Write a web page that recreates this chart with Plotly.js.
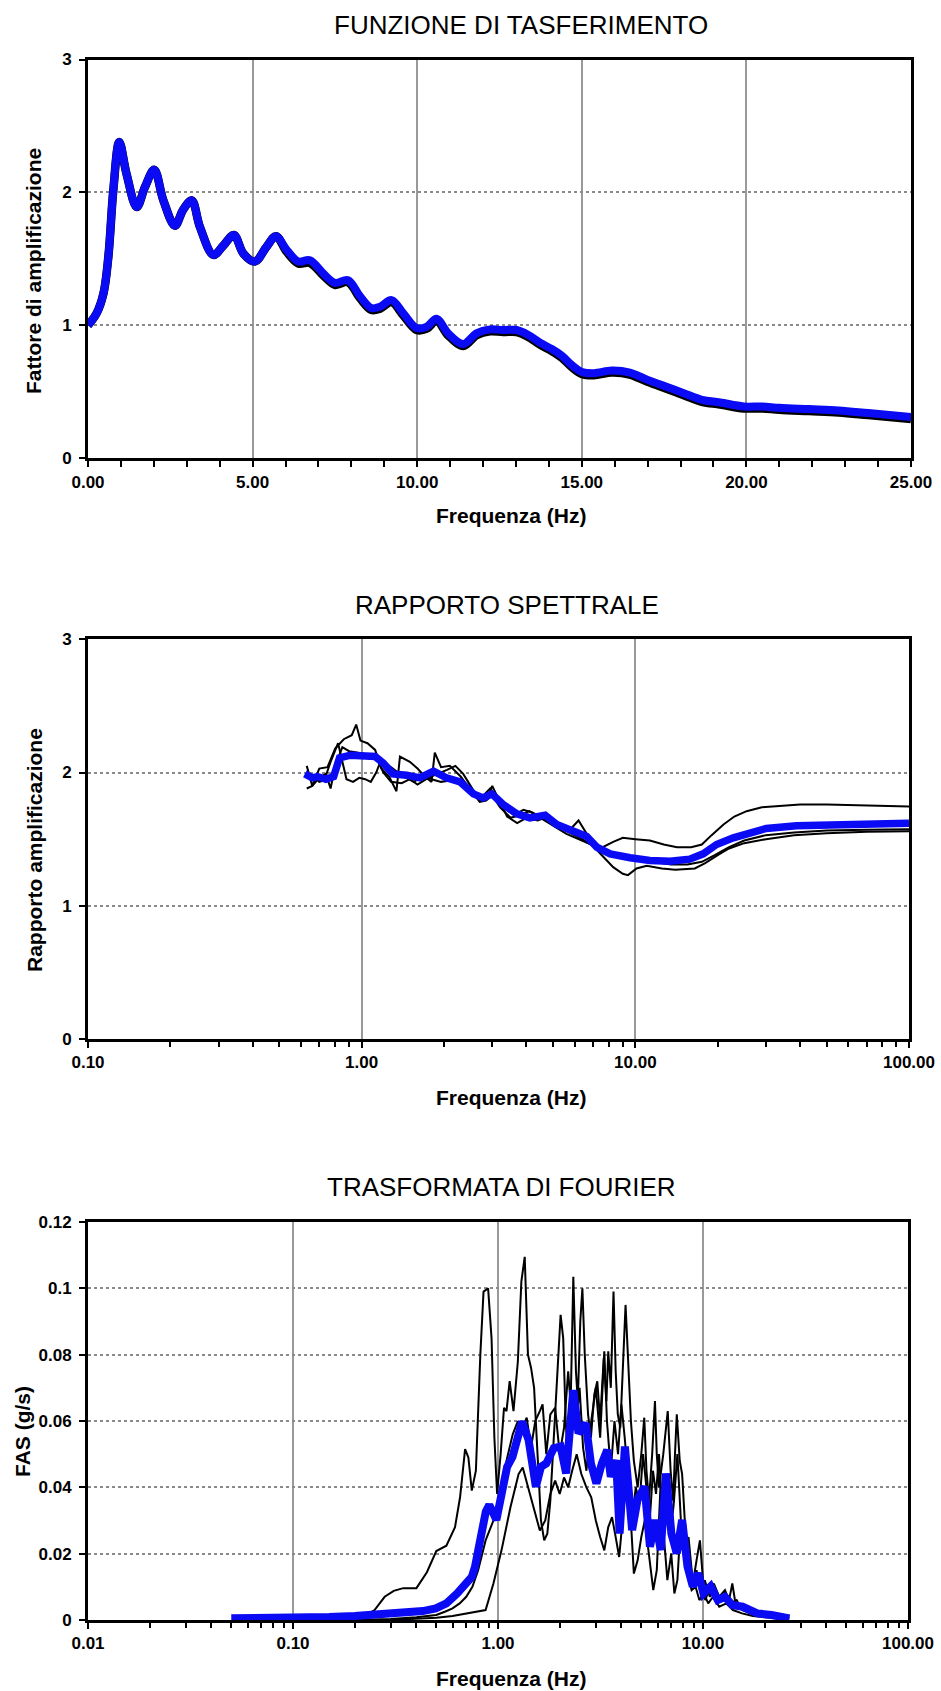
<!DOCTYPE html>
<html>
<head>
<meta charset="utf-8">
<script src="https://cdn.plot.ly/plotly-3.0.1.min.js"></script>
<style>
html,body{margin:0;padding:0;background:#fff;}
#chart{width:941px;height:1691px;}
</style>
</head>
<body>
<div id="chart"></div>
<script>
// ---------- Chart 1: FUNZIONE DI TASFERIMENTO ----------
const freq1 = [0, 0.26, 0.47, 0.62, 0.77, 0.95, 1.17, 1.48, 1.73, 2.01, 2.29, 2.64, 2.89, 3.15, 3.40, 3.81, 4.11, 4.43, 4.72, 5.07, 5.42, 5.71, 6.03, 6.39, 6.74, 7.15, 7.50, 7.90, 8.26, 8.61, 8.87, 9.22, 9.58, 9.98, 10.29, 10.59, 10.94, 11.40, 11.80, 12.21, 12.61, 13.02, 13.36, 13.73, 14.1, 14.4, 14.7, 15.0, 15.37, 15.91, 16.46, 17.0, 17.55, 18.1, 18.65, 19.2, 19.92, 20.47, 21.0, 21.9, 22.8, 23.7, 25.0];
const tfMean = [1.0, 1.09, 1.24, 1.52, 2.02, 2.38, 2.14, 1.89, 2.04, 2.17, 1.94, 1.75, 1.87, 1.94, 1.74, 1.53, 1.60, 1.68, 1.54, 1.48, 1.59, 1.67, 1.57, 1.48, 1.49, 1.39, 1.32, 1.34, 1.22, 1.13, 1.14, 1.19, 1.09, 0.98, 0.99, 1.05, 0.94, 0.86, 0.94, 0.97, 0.965, 0.965, 0.93, 0.87, 0.82, 0.77, 0.70, 0.65, 0.64, 0.66, 0.645, 0.59, 0.54, 0.49, 0.44, 0.42, 0.39, 0.39, 0.38, 0.37, 0.36, 0.34, 0.31];
const tfRecord = [1.0, 1.09, 1.24, 1.52, 2.02, 2.38, 2.14, 1.89, 2.04, 2.17, 1.94, 1.75, 1.87, 1.94, 1.74, 1.53, 1.60, 1.68, 1.54, 1.48, 1.59, 1.67, 1.555, 1.465, 1.47, 1.375, 1.305, 1.325, 1.205, 1.115, 1.125, 1.175, 1.075, 0.965, 0.975, 1.035, 0.925, 0.845, 0.925, 0.955, 0.95, 0.95, 0.915, 0.855, 0.805, 0.755, 0.685, 0.635, 0.625, 0.645, 0.63, 0.575, 0.525, 0.475, 0.425, 0.405, 0.375, 0.375, 0.365, 0.355, 0.345, 0.325, 0.295];

// ---------- Chart 2: RAPPORTO SPETTRALE ----------
const freq2Mean = [0.62, 0.66, 0.69, 0.74, 0.79, 0.83, 0.91, 1.01, 1.12, 1.20, 1.30, 1.46, 1.63, 1.83, 2.04, 2.29, 2.56, 2.78, 2.99, 3.29, 3.69, 4.12, 4.68, 5.16, 5.94, 6.64, 7.23, 8.09, 9.57, 11.3, 13.4, 15.8, 17.7, 19.8, 22.8, 26.2, 30.1, 38.8, 51.4, 68, 100];
const ratioMean = [1.99, 1.96, 1.97, 1.95, 1.97, 2.11, 2.13, 2.12, 2.12, 2.07, 1.99, 1.98, 1.96, 2.01, 1.96, 1.93, 1.84, 1.81, 1.84, 1.76, 1.69, 1.66, 1.68, 1.61, 1.56, 1.52, 1.44, 1.39, 1.36, 1.34, 1.335, 1.35, 1.39, 1.46, 1.51, 1.54, 1.58, 1.60, 1.605, 1.61, 1.62];
const freq2A = [0.63, 0.66, 0.70, 0.75, 0.80, 0.86, 0.92, 0.955, 0.99, 1.05, 1.12, 1.18, 1.26, 1.34, 1.38, 1.5, 1.6, 1.7, 1.8, 1.85, 1.95, 2.1, 2.3, 2.5, 2.7, 2.95, 3.1, 3.3, 3.6, 3.9, 4.2, 4.6, 5.0, 5.5, 6.0, 6.5, 7.0, 7.6, 8.3, 9.0, 10, 11.3, 12.7, 14.2, 16, 17.5, 19, 21, 23, 25.5, 29, 33, 40, 50, 65, 80, 100];
const ratioA = [2.05, 1.90, 2.03, 2.04, 2.18, 2.25, 2.28, 2.36, 2.24, 2.22, 2.17, 2.03, 1.97, 1.86, 2.12, 2.08, 2.03, 1.97, 1.93, 2.15, 2.04, 2.05, 1.97, 1.87, 1.80, 1.88, 1.80, 1.74, 1.68, 1.72, 1.70, 1.66, 1.62, 1.57, 1.53, 1.49, 1.45, 1.44, 1.48, 1.51, 1.50, 1.49, 1.46, 1.44, 1.44, 1.46, 1.53, 1.61, 1.67, 1.71, 1.74, 1.75, 1.76, 1.76, 1.755, 1.75, 1.745];
const freq2B = [0.63, 0.66, 0.70, 0.74, 0.77, 0.80, 0.85, 0.90, 0.96, 1.02, 1.08, 1.14, 1.2, 1.28, 1.4, 1.5, 1.6, 1.75, 1.9, 2.05, 2.2, 2.35, 2.5, 2.7, 2.9, 3.0, 3.2, 3.4, 3.7, 4.0, 4.4, 4.8, 5.2, 5.7, 6.2, 6.6, 7.0, 7.6, 8.3, 9.0, 9.4, 10.1, 11, 12.5, 14, 16.5, 18, 20, 22, 25, 30, 38, 50, 70, 100];
const ratioB = [1.88, 1.90, 1.96, 1.99, 1.88, 2.05, 2.19, 2.16, 2.15, 2.14, 2.13, 2.10, 2.00, 1.93, 1.92, 1.95, 1.91, 1.96, 1.99, 2.02, 2.05, 1.99, 1.90, 1.79, 1.82, 1.90, 1.78, 1.67, 1.62, 1.66, 1.64, 1.67, 1.61, 1.56, 1.64, 1.55, 1.45, 1.37, 1.29, 1.24, 1.23, 1.28, 1.30, 1.28, 1.27, 1.28, 1.32, 1.38, 1.43, 1.47, 1.50, 1.53, 1.545, 1.555, 1.56];
const freq2C = [0.63, 0.66, 0.70, 0.73, 0.77, 0.82, 0.88, 0.93, 0.98, 1.03, 1.08, 1.13, 1.17, 1.22, 1.3, 1.4, 1.55, 1.7, 1.8, 1.95, 2.1, 2.3, 2.5, 2.7, 2.85, 3.0, 3.2, 3.5, 3.8, 4.1, 4.5, 5.0, 5.6, 6.2, 7.0, 7.8, 8.8, 10, 11.5, 13.5, 15.5, 17.5, 19.5, 22, 25, 30, 38, 50, 70, 100];
const ratioC = [2.00, 1.98, 1.93, 1.94, 2.08, 2.22, 1.95, 1.93, 1.96, 1.95, 1.93, 2.00, 2.08, 2.07, 2.03, 1.98, 1.93, 1.98, 1.95, 1.93, 1.94, 1.93, 1.87, 1.78, 1.79, 1.83, 1.74, 1.66, 1.68, 1.71, 1.66, 1.60, 1.54, 1.50, 1.45, 1.41, 1.38, 1.35, 1.33, 1.31, 1.31, 1.33, 1.38, 1.44, 1.49, 1.53, 1.55, 1.565, 1.57, 1.575];

// ---------- Chart 3: TRASFORMATA DI FOURIER ----------
const freq3Mean = [0.05, 0.08, 0.108, 0.15, 0.2, 0.241, 0.3, 0.36, 0.43, 0.497, 0.56, 0.632, 0.68, 0.713, 0.745, 0.772, 0.80, 0.82, 0.872, 0.907, 0.94, 0.982, 1.043, 1.108, 1.177, 1.25, 1.31, 1.41, 1.53, 1.62, 1.72, 1.87, 2.02, 2.15, 2.24, 2.33, 2.47, 2.68, 2.84, 3.02, 3.21, 3.41, 3.55, 3.77, 3.92, 4.16, 4.51, 4.79, 5.19, 5.51, 5.85, 6.22, 6.60, 7.01, 7.45, 7.91, 8.40, 8.92, 9.48, 10.06, 10.9, 11.8, 12.8, 13.9, 15.6, 18.4, 21.6, 26.4];
const fasMean = [0.0005, 0.0005, 0.0007, 0.0009, 0.0012, 0.0015, 0.0018, 0.002, 0.0027, 0.0035, 0.005, 0.008, 0.0105, 0.012, 0.013, 0.016, 0.021, 0.024, 0.0327, 0.0347, 0.032, 0.0302, 0.0382, 0.0462, 0.0492, 0.0543, 0.0598, 0.0543, 0.0402, 0.0462, 0.0472, 0.0518, 0.0523, 0.0442, 0.0563, 0.0693, 0.0563, 0.0593, 0.0472, 0.0412, 0.0472, 0.0513, 0.0432, 0.0482, 0.0261, 0.0523, 0.0271, 0.0362, 0.0402, 0.0221, 0.0302, 0.0211, 0.0442, 0.0261, 0.0201, 0.0302, 0.0161, 0.0101, 0.0141, 0.008, 0.0101, 0.006, 0.007, 0.0045, 0.004, 0.002, 0.0015, 0.0005];
const freq3K1 = [0.2, 0.22, 0.25, 0.28, 0.31, 0.345, 0.40, 0.45, 0.50, 0.56, 0.617, 0.653, 0.691, 0.717, 0.745, 0.78, 0.82, 0.85, 0.895, 0.93, 0.96, 0.99, 1.03, 1.07, 1.10, 1.14, 1.19, 1.25, 1.30, 1.35, 1.40, 1.45, 1.50, 1.56, 1.62, 1.68, 1.74, 1.80, 1.87, 1.95, 2.02, 2.08, 2.14, 2.20, 2.27, 2.33, 2.40, 2.45, 2.52, 2.58, 2.65, 2.75, 2.84, 2.95, 3.05, 3.15, 3.28, 3.38, 3.45, 3.55, 3.66, 3.75, 3.84, 3.95, 4.05, 4.19, 4.30, 4.45, 4.60, 4.80, 5.0, 5.17, 5.30, 5.45, 5.65, 5.83, 5.95, 6.1, 6.4, 6.73, 6.95, 7.15, 7.3, 7.45, 7.7, 7.91, 8.15, 8.4, 8.65, 8.92, 9.3, 9.66, 10.0, 10.25, 10.7, 11.3, 12.0, 12.8, 13.4, 13.9, 14.4, 15.3, 16.3, 18, 19.9, 23, 26.4];
const fasK1 = [0.0003, 0.001, 0.003, 0.007, 0.0088, 0.0096, 0.0096, 0.0144, 0.0208, 0.0224, 0.028, 0.037, 0.0515, 0.049, 0.039, 0.045, 0.08, 0.099, 0.100, 0.085, 0.055, 0.038, 0.05, 0.064, 0.063, 0.072, 0.063, 0.078, 0.102, 0.1095, 0.08, 0.076, 0.07, 0.05, 0.03, 0.024, 0.026, 0.036, 0.055, 0.074, 0.092, 0.085, 0.06, 0.046, 0.07, 0.1035, 0.075, 0.066, 0.09, 0.1, 0.08, 0.062, 0.055, 0.068, 0.072, 0.06, 0.079, 0.066, 0.081, 0.07, 0.099, 0.075, 0.062, 0.058, 0.075, 0.095, 0.08, 0.06, 0.048, 0.04, 0.05, 0.061, 0.045, 0.036, 0.05, 0.066, 0.05, 0.04, 0.05, 0.063, 0.045, 0.036, 0.05, 0.062, 0.048, 0.044, 0.03, 0.021, 0.015, 0.011, 0.018, 0.024, 0.012, 0.006, 0.009, 0.011, 0.007, 0.009, 0.006, 0.011, 0.005, 0.004, 0.003, 0.002, 0.0015, 0.001, 0.0005];
const freq3K2 = [0.2, 0.3, 0.4, 0.5, 0.55, 0.6, 0.65, 0.7, 0.75, 0.8, 0.87, 0.95, 1.02, 1.1, 1.18, 1.25, 1.3, 1.38, 1.45, 1.52, 1.6, 1.65, 1.72, 1.8, 1.9, 2.0, 2.1, 2.2, 2.28, 2.4, 2.5, 2.6, 2.7, 2.85, 3.0, 3.15, 3.3, 3.4, 3.55, 3.7, 3.85, 4.0, 4.15, 4.3, 4.5, 4.7, 4.9, 5.1, 5.3, 5.5, 5.7, 5.9, 6.1, 6.3, 6.6, 6.9, 7.2, 7.5, 7.8, 8.1, 8.5, 8.9, 9.3, 9.7, 10.2, 10.8, 11.4, 12.1, 12.9, 13.7, 14.6, 15.5, 17, 19, 22, 25];
const fasK2 = [0, 0.0003, 0.0008, 0.0015, 0.0025, 0.0035, 0.005, 0.007, 0.01, 0.015, 0.024, 0.03, 0.036, 0.048, 0.056, 0.06, 0.057, 0.061, 0.052, 0.06, 0.063, 0.065, 0.05, 0.062, 0.064, 0.05, 0.058, 0.075, 0.062, 0.058, 0.07, 0.052, 0.045, 0.06, 0.07, 0.055, 0.081, 0.06, 0.045, 0.06, 0.05, 0.065, 0.055, 0.045, 0.03, 0.04, 0.035, 0.05, 0.04, 0.03, 0.045, 0.038, 0.05, 0.035, 0.04, 0.025, 0.035, 0.05, 0.03, 0.02, 0.025, 0.012, 0.015, 0.009, 0.012, 0.007, 0.01, 0.006, 0.008, 0.005, 0.006, 0.003, 0.002, 0.0012, 0.0008, 0.0004];
const freq3K3 = [0.3, 0.4, 0.5, 0.6, 0.7, 0.8, 0.87, 0.95, 1.04, 1.15, 1.26, 1.32, 1.4, 1.5, 1.6, 1.7, 1.8, 1.9, 2.0, 2.1, 2.2, 2.3, 2.42, 2.55, 2.7, 2.85, 3.0, 3.15, 3.3, 3.45, 3.6, 3.75, 3.9, 4.05, 4.2, 4.4, 4.6, 4.8, 5.0, 5.2, 5.45, 5.72, 5.95, 6.2, 6.45, 6.7, 7.0, 7.25, 7.5, 7.8, 8.1, 8.4, 8.8, 9.2, 9.6, 10.1, 10.6, 11.2, 12, 13, 14, 15.5, 17.5, 20, 24];
const fasK3 = [0, 0.0003, 0.0007, 0.0012, 0.002, 0.0025, 0.003, 0.011, 0.021, 0.034, 0.044, 0.046, 0.04, 0.033, 0.027, 0.03, 0.038, 0.042, 0.038, 0.043, 0.04, 0.045, 0.05, 0.044, 0.04, 0.037, 0.03, 0.025, 0.021, 0.028, 0.031, 0.025, 0.019, 0.03, 0.045, 0.035, 0.014, 0.018, 0.025, 0.03, 0.02, 0.009, 0.015, 0.04, 0.025, 0.012, 0.02, 0.008, 0.012, 0.03, 0.02, 0.014, 0.009, 0.01, 0.006, 0.008, 0.005, 0.007, 0.004, 0.005, 0.003, 0.002, 0.0012, 0.0008, 0.0004];

// ---------- Texts ----------
const titles = ['FUNZIONE DI TASFERIMENTO', 'RAPPORTO SPETTRALE', 'TRASFORMATA DI FOURIER'];
const xTitle = 'Frequenza (Hz)';
const yTitles = ['Fattore di amplificazione', 'Rapporto amplificazione', 'FAS (g/s)'];

// ---------- Layout helpers ----------
const W = 941, H = 1691;
const px = v => v / W;
const py = v => 1 - v / H;
const FONT = '"Liberation Sans", Arial, Helvetica, sans-serif';
const BLUE = '#0a0af5';
const tickFont = {family: FONT, size: 17, color: '#000', weight: 'bold'};

function baseAxis(extra) {
  return Object.assign({
    showline: true, linecolor: '#000', linewidth: 3, mirror: true,
    ticks: 'outside', ticklen: 6, tickwidth: 2, tickcolor: '#000',
    showgrid: true, gridcolor: '#8a8a8a', gridwidth: 2, griddash: 'dot',
    zeroline: false, tickfont: tickFont, fixedrange: true
  }, extra);
}
const xGrid = {gridcolor: '#999999', gridwidth: 2, griddash: 'solid'};
const yGrid = {gridcolor: '#8a8a8a', gridwidth: 2, griddash: 'dot', ticklabelstandoff: 4};
const minorLog = {ticks: 'outside', ticklen: 5, tickwidth: 2, tickcolor: '#000', dtick: 'D1', showgrid: false};

const blackLine = {color: '#000', width: 2};
const traces = [
  {x: freq1, y: tfRecord, xaxis: 'x', yaxis: 'y', mode: 'lines', line: {color: '#000', width: 8.5, shape: 'spline', smoothing: 1}},
  {x: freq1, y: tfMean, xaxis: 'x', yaxis: 'y', mode: 'lines', line: {color: BLUE, width: 8, shape: 'spline', smoothing: 1}},
  {x: freq2A, y: ratioA, xaxis: 'x2', yaxis: 'y2', mode: 'lines', line: blackLine},
  {x: freq2B, y: ratioB, xaxis: 'x2', yaxis: 'y2', mode: 'lines', line: blackLine},
  {x: freq2C, y: ratioC, xaxis: 'x2', yaxis: 'y2', mode: 'lines', line: blackLine},
  {x: freq2Mean, y: ratioMean, xaxis: 'x2', yaxis: 'y2', mode: 'lines', line: {color: BLUE, width: 7.5}},
  {x: freq3K1, y: fasK1, xaxis: 'x3', yaxis: 'y3', mode: 'lines', line: blackLine},
  {x: freq3K2, y: fasK2, xaxis: 'x3', yaxis: 'y3', mode: 'lines', line: blackLine},
  {x: freq3K3, y: fasK3, xaxis: 'x3', yaxis: 'y3', mode: 'lines', line: blackLine},
  {x: freq3Mean, y: fasMean, xaxis: 'x3', yaxis: 'y3', mode: 'lines', line: {color: BLUE, width: 8}}
];

const titleFont = {family: FONT, size: 26, color: '#000'};
const axTitleFont = {family: FONT, size: 21, color: '#000', weight: 'bold'};
const ann = (text, x, y, font, angle) => ({
  text: text, x: px(x), y: py(y), xref: 'paper', yref: 'paper',
  xanchor: 'center', yanchor: 'middle', showarrow: false, font: font, textangle: angle || 0
});

const layout = {
  width: W, height: H,
  margin: {l: 0, r: 0, t: 0, b: 0},
  paper_bgcolor: '#fff', plot_bgcolor: '#fff',
  showlegend: false, hovermode: false,
  xaxis: baseAxis(Object.assign({domain: [px(88), px(911)], anchor: 'y', range: [0, 25], dtick: 5, tick0: 0, tickformat: '.2f',
    minor: {dtick: 1, ticks: 'outside', ticklen: 6, tickwidth: 2, tickcolor: '#000', showgrid: false}}, xGrid)),
  yaxis: baseAxis(Object.assign({domain: [py(458.3), py(59.5)], anchor: 'x', range: [0, 3], dtick: 1}, yGrid)),
  xaxis2: baseAxis(Object.assign({domain: [px(88), px(909)], anchor: 'y2', type: 'log', range: [-1, 2], dtick: 1, tickformat: '.2f', minor: minorLog}, xGrid)),
  yaxis2: baseAxis(Object.assign({domain: [py(1039), py(639.3)], anchor: 'x2', range: [0, 3], dtick: 1}, yGrid)),
  xaxis3: baseAxis(Object.assign({domain: [px(88), px(908)], anchor: 'y3', type: 'log', range: [-2, 2], dtick: 1, tickformat: '.2f', minor: minorLog}, xGrid)),
  yaxis3: baseAxis(Object.assign({domain: [py(1620), py(1222)], anchor: 'x3', range: [0, 0.12], dtick: 0.02}, yGrid)),
  annotations: [
    ann(titles[0], 520.5, 25, titleFont),
    ann(titles[1], 507, 605, titleFont),
    ann(titles[2], 501, 1186.5, titleFont),
    ann(xTitle, 512, 516, axTitleFont),
    ann(xTitle, 512, 1097, axTitleFont),
    ann(xTitle, 512, 1678, axTitleFont),
    ann(yTitles[0], 33, 271, axTitleFont, -90),
    ann(yTitles[1], 34, 850, axTitleFont, -90),
    ann(yTitles[2], 22, 1432, axTitleFont, -90)
  ]
};

Plotly.newPlot('chart', traces, layout, {displayModeBar: false, staticPlot: true});
</script>
</body>
</html>
